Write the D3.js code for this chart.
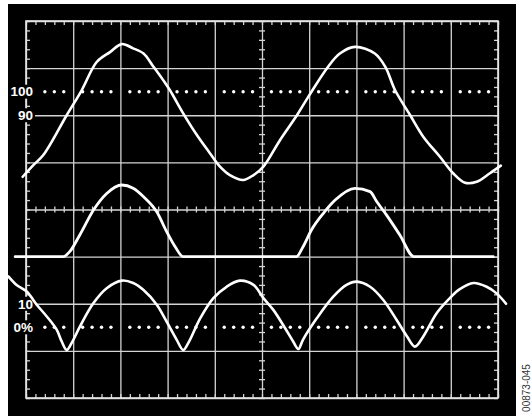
<!DOCTYPE html>
<html>
<head>
<meta charset="utf-8">
<script src="https://cdn.jsdelivr.net/npm/d3@7"></script>
<style>
  body { margin: 0; background: #fff; }
  svg { display: block; }
</style>
</head>
<body>
<svg width="531" height="416"></svg>
<script>
// values in screen divisions: x 0..10, y -4..4 (0 = centre line)
var topX = [-0.07, 0.155, 0.367, 0.862, 1.18, 1.498, 1.78, 2.03, 2.27, 2.49, 2.70, 2.91, 3.05, 3.33, 3.62, 3.90, 4.11, 4.32, 4.60, 4.82, 5.03, 5.38, 5.74, 5.98, 6.40, 6.65, 6.97, 7.39, 7.61, 7.82, 8.14, 8.42, 8.77, 9.05, 9.30, 9.55, 9.83, 10.06];
var topY = [0.695, 0.943, 1.155, 2.00, 2.53, 3.13, 3.34, 3.51, 3.42, 3.31, 3.03, 2.74, 2.53, 2.04, 1.58, 1.19, 0.91, 0.73, 0.625, 0.73, 0.91, 1.47, 2.00, 2.39, 3.03, 3.31, 3.45, 3.31, 3.03, 2.53, 2.00, 1.54, 1.12, 0.77, 0.57, 0.59, 0.77, 0.93];

var midX = [-0.23, 0.79, 0.93, 1.14, 1.43, 1.71, 2.03, 2.27, 2.49, 2.77, 2.98, 3.16, 3.33, 5.73, 5.87, 6.05, 6.30, 6.55, 6.97, 7.29, 7.43, 7.64, 7.92, 8.22, 9.90];
var midY = [-1.0, -1.0, -0.89, -0.54, -0.01, 0.34, 0.52, 0.45, 0.27, -0.05, -0.47, -0.79, -1.0, -1.0, -0.79, -0.43, -0.08, 0.20, 0.45, 0.38, 0.17, -0.12, -0.54, -1.0, -1.0];

var botX = [-0.375, -0.20, 0.015, 0.227, 0.44, 0.65, 0.756, 0.862, 0.968, 1.144, 1.426, 1.71, 2.03, 2.27, 2.49, 2.77, 2.98, 3.19, 3.33, 3.44, 3.69, 3.97, 4.25, 4.53, 4.82, 5.03, 5.24, 5.49, 5.66, 5.77, 5.87, 6.16, 6.51, 6.79, 7.01, 7.29, 7.57, 7.85, 8.07, 8.24, 8.42, 8.70, 8.98, 9.19, 9.48, 9.76, 9.97, 10.17];
var botY = [-1.42, -1.60, -1.74, -2.02, -2.27, -2.55, -2.80, -2.98, -2.83, -2.48, -1.99, -1.67, -1.51, -1.56, -1.71, -2.02, -2.38, -2.76, -2.98, -2.83, -2.31, -1.88, -1.64, -1.51, -1.60, -1.88, -2.13, -2.52, -2.80, -2.96, -2.76, -2.31, -1.85, -1.60, -1.53, -1.64, -1.92, -2.34, -2.69, -2.91, -2.69, -2.20, -1.88, -1.69, -1.56, -1.64, -1.78, -2.00];

var levelLabels = ["100", "90", "10", "0%"];
var levelValues = [2.5, 2.0, -2.0, -2.5];
var dottedLevels = [2.5, -2.5];

var svg = d3.select("svg"),
    gx0 = 26, gx1 = 498, gy0 = 21, gy1 = 398,
    gw = gx1 - gx0, gh = gy1 - gy0;

var x = d3.scaleLinear().domain([0, 10]).range([gx0, gx1]),
    y = d3.scaleLinear().domain([-4, 4]).range([gy1, gy0]);

var gridColor = "#d4d4d4";

svg.append("rect")
    .attr("x", 8).attr("y", 4)
    .attr("width", 508).attr("height", 412)
    .attr("fill", "#000");

var major = d3.range(0, 11), majorY = d3.range(-4, 5);
var minorX = d3.range(0, 51).map(function(k) { return k * 0.2; });
var minorY = d3.range(0, 41).map(function(k) { return -4 + k * 0.2; });

function styleAxis(g) {
  g.select(".domain").remove();
  g.selectAll("line").attr("stroke", gridColor).attr("stroke-width", 1.3);
  g.selectAll("text").remove();
}

// major grid
svg.append("g")
    .attr("transform", "translate(0," + gy1 + ")")
    .call(d3.axisBottom(x).tickValues(major).tickSize(-gh).tickFormat(""))
    .call(styleAxis);
svg.append("g")
    .attr("transform", "translate(" + gx0 + ",0)")
    .call(d3.axisLeft(y).tickValues(majorY).tickSize(-gw).tickFormat(""))
    .call(styleAxis);

// minor ticks on frame edges
svg.append("g").attr("transform", "translate(0," + gy0 + ")")
    .call(d3.axisBottom(x).tickValues(minorX).tickSize(4)).call(styleAxis);
svg.append("g").attr("transform", "translate(0," + gy1 + ")")
    .call(d3.axisTop(x).tickValues(minorX).tickSize(4)).call(styleAxis);
svg.append("g").attr("transform", "translate(" + gx0 + ",0)")
    .call(d3.axisRight(y).tickValues(minorY).tickSize(4)).call(styleAxis);
svg.append("g").attr("transform", "translate(" + gx1 + ",0)")
    .call(d3.axisLeft(y).tickValues(minorY).tickSize(4)).call(styleAxis);

// minor ticks on the centre cross
svg.append("g").attr("transform", "translate(0," + y(0) + ")")
    .call(d3.axisBottom(x).tickValues(minorX).tickSize(3)).call(styleAxis);
svg.append("g").attr("transform", "translate(0," + y(0) + ")")
    .call(d3.axisTop(x).tickValues(minorX).tickSize(3)).call(styleAxis);
svg.append("g").attr("transform", "translate(" + x(5) + ",0)")
    .call(d3.axisRight(y).tickValues(minorY).tickSize(3)).call(styleAxis);
svg.append("g").attr("transform", "translate(" + x(5) + ",0)")
    .call(d3.axisLeft(y).tickValues(minorY).tickSize(3)).call(styleAxis);

svg.append("rect")
    .attr("x", gx0).attr("y", gy0)
    .attr("width", gw).attr("height", gh)
    .attr("fill", "none")
    .attr("stroke", "#e6e6e6")
    .attr("stroke-width", 1.6);

// 0% / 100% dotted levels
var dotX = minorX.filter(function(d, k) { return k % 5 !== 0 && k > 1; });
dottedLevels.forEach(function(lv) {
  svg.append("g").selectAll("circle")
      .data(dotX)
      .enter().append("circle")
      .attr("cx", function(d) { return x(d); })
      .attr("cy", y(lv))
      .attr("r", 1.7)
      .attr("fill", "#fff");
});

// level labels on black patches
levelLabels.forEach(function(t, i) {
  var cy = y(levelValues[i]);
  var w = t.length * 7.3 + 3;
  svg.append("rect")
      .attr("x", 34 - w).attr("y", cy - 7)
      .attr("width", w + 1).attr("height", 14)
      .attr("fill", "#000");
  svg.append("text")
      .attr("x", 33).attr("y", cy + 4.8)
      .attr("text-anchor", "end")
      .attr("font-family", "'Liberation Sans', Arial, sans-serif")
      .attr("font-weight", "bold")
      .attr("font-size", 13.5)
      .attr("fill", "#fff")
      .text(t);
});

// traces
function trace(xs, ys, w, curve) {
  var line = d3.line()
      .x(function(d) { return x(d[0]); })
      .y(function(d) { return y(d[1]); })
      .curve(curve);
  svg.append("path")
      .datum(d3.zip(xs, ys))
      .attr("d", line)
      .attr("fill", "none")
      .attr("stroke", "#fff")
      .attr("stroke-width", w)
      .attr("stroke-linejoin", "round")
      .attr("stroke-linecap", "round");
}
trace(topX, topY, 2.6, d3.curveCatmullRom.alpha(0.5));
trace(midX, midY, 2.8, d3.curveMonotoneX);
trace(botX, botY, 2.6, d3.curveCatmullRom.alpha(0.5));

svg.append("text")
    .attr("transform", "translate(530,388) rotate(-90)")
    .attr("text-anchor", "middle")
    .attr("font-family", "'Liberation Sans', Arial, sans-serif")
    .attr("font-size", 10)
    .attr("fill", "#333")
    .text("00873-045");
</script>
</body>
</html>
